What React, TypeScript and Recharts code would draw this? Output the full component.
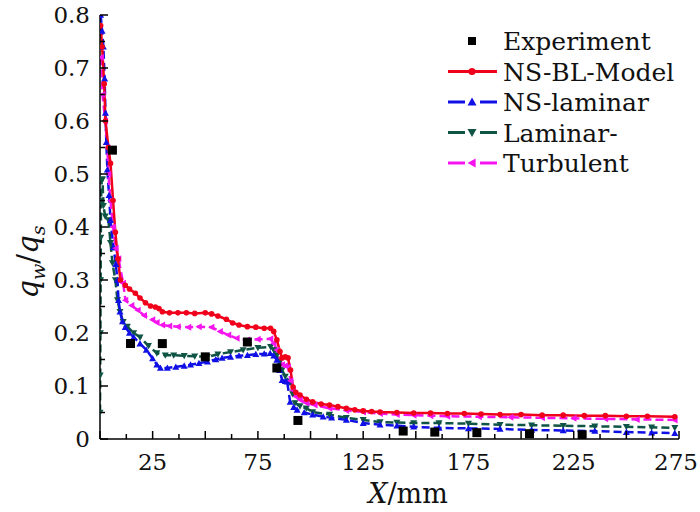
import React from 'react'
import { ComposedChart, Line, Scatter, XAxis, YAxis, Label } from 'recharts'

type Pt = { x: number; y: number }
const toPts = (arr: number[][]): Pt[] => arr.map(([x, y]) => ({ x, y }))

// Experiment
const experiment = toPts([
  [5.9, 0.545], [14.5, 0.18], [29.6, 0.18], [50, 0.155], [70, 0.183], [84, 0.134],
  [94, 0.035], [144, 0.015], [159, 0.013], [179, 0.012], [204, 0.01], [229, 0.008],
])

// NS-BL-Model
const nsBlModel = toPts([
  [0.3, 0.78], [1, 0.74], [2, 0.67], [2.6, 0.6], [4, 0.55], [5, 0.52], [6.2, 0.45], [7.3, 0.39],
  [8.5, 0.34], [9.7, 0.3], [12, 0.29], [14, 0.283], [16.8, 0.275], [19, 0.266], [21.6, 0.257],
  [24, 0.251], [26.3, 0.249], [28, 0.246], [29.6, 0.24], [33, 0.238], [37, 0.238], [41, 0.238],
  [45, 0.237], [50, 0.238], [53, 0.236], [56, 0.232], [60, 0.226], [63, 0.219], [66, 0.215],
  [70, 0.212], [74, 0.211], [78, 0.209], [81, 0.209], [82.5, 0.203], [84, 0.187], [85.5, 0.165],
  [86.5, 0.153], [88, 0.155], [89.3, 0.153], [90.5, 0.13], [91.7, 0.098], [93, 0.088], [95, 0.083],
  [98, 0.075], [101, 0.07], [105, 0.066], [109, 0.064], [113, 0.061], [117, 0.058], [121, 0.055],
  [125, 0.053], [129, 0.052], [133, 0.051], [141, 0.05], [149, 0.049], [157, 0.049], [165, 0.048],
  [173, 0.048], [181, 0.047], [190, 0.046], [200, 0.046], [210, 0.045], [220, 0.045], [230, 0.044],
  [240, 0.044], [250, 0.043], [260, 0.043], [273, 0.042],
])

// NS-laminar
const nsLaminar = toPts([
  [0.3, 0.8], [1, 0.77], [1.6, 0.74], [2.2, 0.68], [2.6, 0.615], [3, 0.56], [3.5, 0.508], [4.3, 0.46],
  [5, 0.413], [6.4, 0.362], [7.5, 0.33], [8.3, 0.3], [8.8, 0.262], [9.5, 0.24], [10.7, 0.222],
  [12, 0.211], [14, 0.2], [16, 0.192], [19, 0.18], [22, 0.168], [25, 0.152], [27, 0.14], [28.7, 0.134],
  [32, 0.134], [36, 0.136], [40, 0.138], [43, 0.14], [47, 0.143], [51, 0.146], [55, 0.15], [58, 0.153],
  [62, 0.155], [66, 0.157], [70, 0.158], [74, 0.16], [78, 0.161], [80.8, 0.162], [82.5, 0.157],
  [84, 0.149], [85.3, 0.13], [86.5, 0.111], [88, 0.109], [88.9, 0.108], [90.3, 0.07], [92, 0.06],
  [93.6, 0.055], [97, 0.05], [101, 0.046], [106, 0.042], [110, 0.04], [117, 0.036], [125, 0.03],
  [133, 0.027], [141, 0.025], [149, 0.023], [161, 0.021], [175, 0.02], [190, 0.019], [205, 0.017],
  [220, 0.016], [235, 0.015], [250, 0.013], [262, 0.012], [273, 0.011],
])

// Laminar-
const laminar = toPts([
  [0, 0.05], [0.1, 0.12], [0.2, 0.2], [0.3, 0.3], [0.4, 0.38], [0.5, 0.45], [0.8, 0.49], [1.2, 0.49],
  [1.6, 0.44], [2.5, 0.42], [4, 0.413], [5, 0.37], [5.9, 0.332], [7.3, 0.3], [8.3, 0.262], [9.5, 0.24],
  [11, 0.221], [13, 0.212], [16, 0.2], [19, 0.192], [23, 0.176], [27, 0.162], [31, 0.158], [35, 0.158],
  [40, 0.157], [45, 0.156], [51, 0.155], [56, 0.16], [62, 0.164], [68, 0.168], [75, 0.172], [81, 0.174],
  [82.5, 0.168], [84, 0.158], [85.3, 0.145], [86.5, 0.13], [88, 0.118], [90.3, 0.106], [91.5, 0.085],
  [92.6, 0.068], [95, 0.062], [98, 0.058], [101, 0.051], [109, 0.046], [117, 0.04], [125, 0.036],
  [133, 0.032], [141, 0.031], [149, 0.03], [161, 0.03], [175, 0.029], [190, 0.027], [205, 0.026],
  [220, 0.025], [235, 0.024], [250, 0.023], [262, 0.022], [273, 0.021],
])

// Turbulent
const turbulent = toPts([
  [0.5, 0.72], [1.2, 0.65], [2.5, 0.6], [3.5, 0.55], [4, 0.5], [5, 0.45], [6.2, 0.4], [7.5, 0.36],
  [8.8, 0.34], [11, 0.294], [12.1, 0.262], [15, 0.252], [18, 0.243], [21, 0.233], [24.9, 0.225],
  [27, 0.22], [29.6, 0.215], [33, 0.213], [37, 0.212], [42, 0.211], [47, 0.212], [53, 0.211],
  [57, 0.203], [61, 0.196], [65, 0.19], [70, 0.187], [75, 0.188], [81, 0.189], [82.5, 0.18],
  [84, 0.168], [86.5, 0.14], [88, 0.138], [89.3, 0.136], [90.5, 0.11], [91.7, 0.092], [93, 0.08],
  [95, 0.074], [98, 0.068], [102, 0.064], [109, 0.058], [117, 0.054], [125, 0.051], [133, 0.048],
  [141, 0.046], [149, 0.045], [157, 0.044], [165, 0.043], [180, 0.042], [195, 0.041], [210, 0.04],
  [225, 0.039], [240, 0.038], [255, 0.037], [273, 0.036],
])

const xTicks = [0, 12.5, 25, 37.5, 50, 62.5, 75, 87.5, 100, 112.5, 125, 137.5, 150, 162.5, 175, 187.5,
  200, 212.5, 225, 237.5, 250, 262.5, 275]
const xLabels = [25, 75, 125, 175, 225, 275]
const yTicks = [0, 0.05, 0.1, 0.15, 0.2, 0.25, 0.3, 0.35, 0.4, 0.45, 0.5, 0.55, 0.6, 0.65, 0.7, 0.75, 0.8]
const yLabels = ['0', '0.1', '0.2', '0.3', '0.4', '0.5', '0.6', '0.7', '0.8']

const FONT = "'DejaVu Serif', 'Times New Roman', Times, serif"
const txt = { fontFamily: FONT }
const RED = '#f0001a'
const BLUE = '#1010e6'
const GREEN = '#0f5444'
const MAGENTA = '#f514ee'

const shape = (kind: string, cx: number, cy: number, s: number) => {
  if (kind === 'circle') return `M${cx - s * 0.8},${cy}a${s * 0.8},${s * 0.8} 0 1,0 ${s * 1.6},0a${s * 0.8},${s * 0.8} 0 1,0 ${-s * 1.6},0`
  if (kind === 'up') return `M${cx},${cy - s}L${cx + s},${cy + s * 0.8}L${cx - s},${cy + s * 0.8}Z`
  if (kind === 'down') return `M${cx},${cy + s}L${cx + s},${cy - s * 0.8}L${cx - s},${cy - s * 0.8}Z`
  if (kind === 'left') return `M${cx - s},${cy}L${cx + s * 0.8},${cy - s}L${cx + s * 0.8},${cy + s}Z`
  return `M${cx - s},${cy - s}h${2 * s}v${2 * s}h${-2 * s}Z`
}

const makeDot = (kind: string, color: string, s: number) => (p: any) => (
  <path key={`${kind}-${p.index}`} d={shape(kind, p.cx, p.cy, s)} fill={color} stroke="none" />
)

const XTick = (p: any) => {
  const v = p.payload.value
  const major = v % 25 === 0
  return (
    <g>
      <line x1={p.x} x2={p.x} y1={p.y} y2={p.y - (major ? 8 : 5)} stroke="#000" strokeWidth={1.5} />
      {xLabels.includes(v) && (
        <text x={Math.min(p.x, 676)} y={p.y + 31} textAnchor="middle" fontSize={23} style={txt} fill="#111">{v}</text>
      )}
    </g>
  )
}

const YTick = (p: any) => {
  const v = p.payload.value
  const k = Math.round(v * 20)
  const major = k % 2 === 0
  return (
    <g>
      <line x1={p.x} x2={p.x + (major ? 8 : 5)} y1={p.y} y2={p.y} stroke="#000" strokeWidth={1.5} />
      {major && (
        <text x={p.x - 10} y={p.y + 8} textAnchor="end" fontSize={23} style={txt} fill="#111">{yLabels[k / 2]}</text>
      )}
    </g>
  )
}

const legendItems = [
  { name: 'Experiment', kind: 'square', color: '#000', dashed: false, line: false },
  { name: 'NS-BL-Model', kind: 'circle', color: RED, dashed: false, line: true },
  { name: 'NS-laminar', kind: 'up', color: BLUE, dashed: true, line: true },
  { name: 'Laminar-', kind: 'down', color: GREEN, dashed: true, line: true },
  { name: 'Turbulent', kind: 'left', color: MAGENTA, dashed: true, line: true },
]

// legend drawn inside the svg so it takes no layout space
const LegendGroup = () => (
  <g transform="translate(440, 21)">
    {legendItems.map((it, i) => {
      const cy = 20 + i * 30.5
      return (
        <g key={it.name}>
          {it.line && !it.dashed && <line x1={8} x2={57} y1={cy} y2={cy} stroke={it.color} strokeWidth={3} />}
          {it.line && it.dashed && (
            <>
              <line x1={8} x2={25} y1={cy} y2={cy} stroke={it.color} strokeWidth={3} />
              <line x1={40} x2={57} y1={cy} y2={cy} stroke={it.color} strokeWidth={3} />
            </>
          )}
          <path d={shape(it.kind, 32, cy, it.kind === 'square' ? 4 : 4.5)} fill={it.color} />
          <text x={63} y={cy + 9} fontSize={25} style={txt} fill="#111">{it.name}</text>
        </g>
      )
    })}
  </g>
)

const YTitle = () => (
  <text x={38} y={262} transform="rotate(-90, 38, 262)" textAnchor="middle" fontSize={29} style={txt} fill="#111">
    <tspan fontStyle="italic">q</tspan>
    <tspan fontStyle="italic" fontSize={19} dy={7}>w</tspan>
    <tspan dy={-7}>/</tspan>
    <tspan fontStyle="italic">q</tspan>
    <tspan fontStyle="italic" fontSize={19} dy={7}>s</tspan>
  </text>
)

const XTitle = () => (
  <text x={408} y={503} textAnchor="middle" fontSize={27} style={txt} fill="#111">
    <tspan fontStyle="italic">X</tspan>/mm
  </text>
)

export default function App() {
  return (
    <div style={{ position: 'absolute', left: 0, top: 0, width: 700, height: 512, background: '#fff' }}>
      <ComposedChart width={700} height={512} margin={{ top: 15, right: 21, bottom: 0, left: 0 }}>
        <XAxis
          type="number"
          dataKey="x"
          domain={[0, 275]}
          ticks={xTicks}
          interval={0}
          height={73}
          tickSize={0}
          tickMargin={0}
          tick={<XTick />}
          axisLine={{ stroke: '#000', strokeWidth: 1.5 }}
          allowDataOverflow
        >
          <Label content={<XTitle />} />
        </XAxis>
        <YAxis
          type="number"
          domain={[0, 0.8]}
          ticks={yTicks}
          interval={0}
          width={100}
          tickSize={0}
          tickMargin={0}
          tick={<YTick />}
          axisLine={{ stroke: '#000', strokeWidth: 1.5 }}
          allowDataOverflow
        >
          <Label content={<YTitle />} />
          <Label content={<LegendGroup />} />
        </YAxis>
        <Line data={laminar} dataKey="y" name="Laminar-" stroke={GREEN} strokeWidth={2.5} strokeDasharray="8 4"
          dot={makeDot('down', GREEN, 3.5)} activeDot={false} isAnimationActive={false} type="linear" />
        <Line data={nsLaminar} dataKey="y" name="NS-laminar" stroke={BLUE} strokeWidth={2.5} strokeDasharray="8 4"
          dot={makeDot('up', BLUE, 3.5)} activeDot={false} isAnimationActive={false} type="linear" />
        <Line data={turbulent} dataKey="y" name="Turbulent" stroke={MAGENTA} strokeWidth={2.5} strokeDasharray="8 4"
          dot={makeDot('left', MAGENTA, 3.5)} activeDot={false} isAnimationActive={false} type="linear" />
        <Line data={nsBlModel} dataKey="y" name="NS-BL-Model" stroke={RED} strokeWidth={2.5}
          dot={makeDot('circle', RED, 3.5)} activeDot={false} isAnimationActive={false} type="linear" />
        <Scatter data={experiment} dataKey="y" name="Experiment" fill="#000" isAnimationActive={false}
          shape={(p: any) => <path d={shape('square', p.cx, p.cy, 4.5)} fill="#000" />} />
      </ComposedChart>
    </div>
  )
}
